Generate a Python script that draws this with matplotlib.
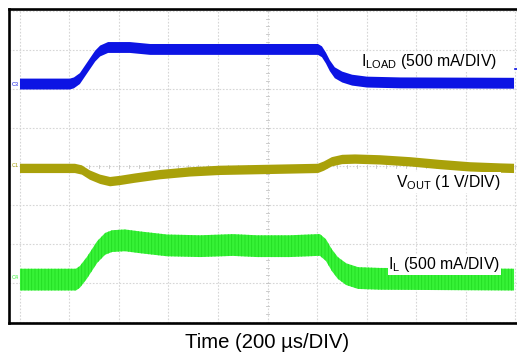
import matplotlib
matplotlib.use('Agg')
import matplotlib.pyplot as plt
import numpy as np

plt.rcParams['font.family'] = ['Liberation Sans', 'DejaVu Sans']
plt.rcParams['mathtext.fontset'] = 'custom'
plt.rcParams['mathtext.rm'] = 'Liberation Sans'
plt.rcParams['mathtext.it'] = 'Liberation Sans:italic'
plt.rcParams['hatch.linewidth'] = 0.6

# Time in screen divisions (200 us/DIV); values in screen divisions (0 = bottom)
iload_t = [0.00, 1.01, 1.09, 1.21, 1.37, 1.52, 1.62, 1.78, 2.22, 2.63, 6.02, 6.10, 6.18,
           6.26, 6.36, 6.51, 6.71, 7.01, 7.68, 9.98]
iload_v = [6.12, 6.12, 6.15, 6.26, 6.56, 6.84, 6.97, 7.06, 7.06, 7.01, 7.01, 6.95, 6.79,
           6.59, 6.41, 6.30, 6.22, 6.17, 6.15, 6.14]
iload_noise = 0.14

vout_t = [0.00, 1.11, 1.25, 1.41, 1.62, 1.82, 2.02, 2.32, 2.83, 3.43, 4.04, 4.85, 6.02,
          6.14, 6.30, 6.51, 6.77, 7.27, 7.88, 8.48, 9.09, 9.70, 9.98]
vout_v = [3.95, 3.95, 3.91, 3.78, 3.67, 3.61, 3.64, 3.70, 3.79, 3.86, 3.90, 3.92, 3.95,
          4.01, 4.12, 4.18, 4.19, 4.17, 4.12, 4.05, 3.99, 3.96, 3.95]
vout_noise = 0.12

il_t = [0.00, 1.13, 1.21, 1.35, 1.56, 1.72, 1.86, 2.12, 2.42, 2.97, 3.64, 4.30, 4.79,
        5.45, 6.02, 6.06, 6.18, 6.30, 6.42, 6.59, 6.83, 7.27, 9.98]
il_v = [1.09, 1.09, 1.16, 1.39, 1.80, 2.01, 2.08, 2.10, 2.05, 1.97, 1.95, 1.98, 1.95,
        1.95, 1.98, 1.98, 1.85, 1.59, 1.39, 1.23, 1.13, 1.11, 1.09]
il_noise = 0.28

labels = [r'I$_{\mathrm{LOAD}}$ (500 mA/DIV)', r'V$_{\mathrm{OUT}}$ (1 V/DIV)',
          r'I$_{\mathrm{L}}$ (500 mA/DIV)']
xlabel = 'Time (200 µs/DIV)'

BLUE = '#0c14e4'
OLIVE = '#a9a10a'
GREEN = '#36f236'

fig = plt.figure(figsize=(5.17, 3.58), dpi=100)
ax = fig.add_axes([9 / 517, 35 / 358, 508 / 517, 314 / 358])
ax.set_xlim(-0.222, 10.04)
ax.set_ylim(-0.026, 8.05)

# graticule
for x in range(11):
    ax.axvline(x, color='#d6d6d6', lw=0.8, ls=(0, (1.5, 1.5)), zorder=0)
for y in range(9):
    ax.axhline(y, color='#d6d6d6', lw=0.8, ls=(0, (1.5, 1.5)), zorder=0)
for x in np.arange(0, 10.01, 0.2):
    ax.plot([x, x], [4 - 0.05, 4 + 0.05], color='#c4c4c4', lw=0.6, zorder=0)
for y in np.arange(0, 8.01, 0.2):
    ax.plot([5 - 0.04, 5 + 0.04], [y, y], color='#c4c4c4', lw=0.6, zorder=0)

def band(t, v, n, color, **kw):
    v = np.asarray(v)
    ax.fill_between(t, v - n, v + n, facecolor=color, lw=0, zorder=2, **kw)

band(iload_t, iload_v, iload_noise, BLUE)
band(vout_t, vout_v, vout_noise, OLIVE)
band(il_t, il_v, il_noise, GREEN, edgecolor='#22dc22', hatch='|||||')

# channel markers
ax.text(-0.17, 6.12, 'C3', color=BLUE, fontsize=4, va='center', ha='left')
ax.text(-0.17, 4.02, 'C1', color=OLIVE, fontsize=4, va='center', ha='left')
ax.text(-0.17, 1.15, 'C4', color=GREEN, fontsize=4, va='center', ha='left')
ax.plot([10.0, 10.04], [6.5, 6.5], color=BLUE, lw=1.2, clip_on=False)

bb = dict(facecolor='white', edgecolor='none', pad=0.5)
ax.text(9.64, 6.69, labels[0], fontsize=11.3, ha='right', va='center', bbox=bb, zorder=3)
ax.text(9.70, 3.59, labels[1], fontsize=11.3, ha='right', va='center', bbox=bb, zorder=3)
ax.text(9.70, 1.47, labels[2], fontsize=11.3, ha='right', va='center', bbox=bb, zorder=3)

for s in ['left', 'top', 'bottom']:
    ax.spines[s].set_linewidth(1.9)
    ax.spines[s].set_color('black')
ax.spines['right'].set_visible(False)
ax.set_xticks([])
ax.set_yticks([])

fig.text(267 / 517, 1 - 343 / 358, xlabel, fontsize=14.6, ha='center', va='center')

fig.savefig('out.png', dpi=100)
